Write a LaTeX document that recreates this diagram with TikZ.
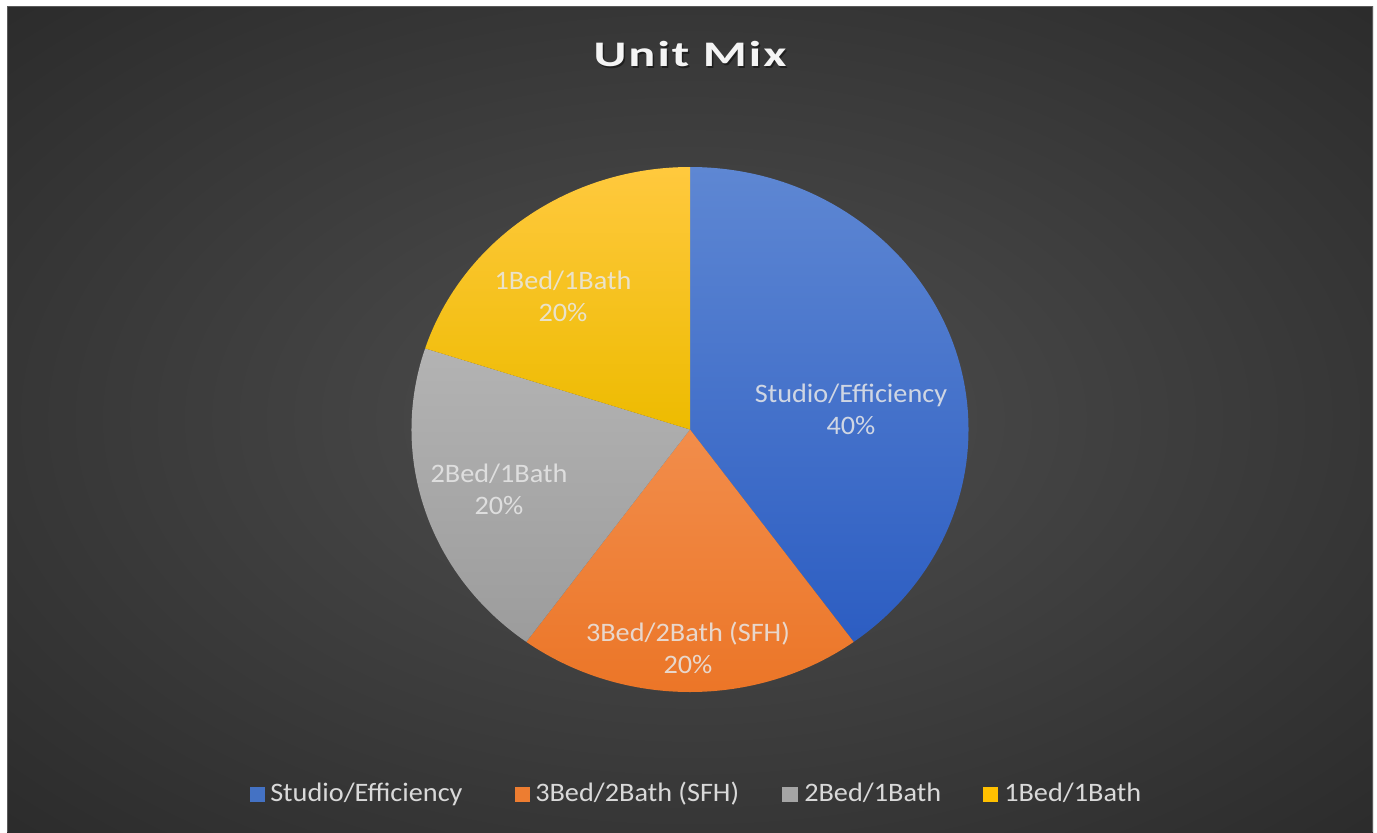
\documentclass[tikz,border=0pt]{standalone}
\usepackage{fontspec}
\setmainfont{Carlito}
\usepackage{graphicx}

% chart palette
\definecolor{bgin}{HTML}{4F4F4F}
\definecolor{bgout}{HTML}{2B2B2B}
\definecolor{frameline}{HTML}{5A5A5A}
\definecolor{bluetop}{HTML}{5E87D3}
\definecolor{bluebot}{HTML}{2C5DC2}
\definecolor{bluekey}{HTML}{4472C4}
\definecolor{orangetop}{HTML}{F28D4B}
\definecolor{orangebot}{HTML}{EB7425}
\definecolor{orangekey}{HTML}{ED7D31}
\definecolor{graytop}{HTML}{B3B3B3}
\definecolor{graybot}{HTML}{9C9C9C}
\definecolor{graykey}{HTML}{A5A5A5}
\definecolor{yellowtop}{HTML}{FFC93E}
\definecolor{yellowbot}{HTML}{EDBB00}
\definecolor{yellowkey}{HTML}{FFC000}
\definecolor{labeltext}{HTML}{E8E8E8}
\definecolor{legendtext}{HTML}{D9D9D9}
\definecolor{titletext}{HTML}{F4F4F4}

% soft glow behind the chart area
\pgfdeclareradialshading{bgglow}{\pgfpoint{0bp}{0bp}}{color(0bp)=(bgin); color(36bp)=(bgout); color(50bp)=(bgout)}

\tikzset{
  slicelabel/.style={text=labeltext, text opacity=0.85, align=center,
    font=\fontsize{20}{24}\selectfont, inner sep=0pt},
  legkey/.style={minimum size=11.5pt, inner sep=0pt, outer sep=0pt},
  legtext/.style={text=legendtext, font=\fontsize{20}{24}\selectfont,
    inner sep=0pt, anchor=base west},
  titlestyle/.style={font=\fontsize{27}{31}\bfseries\addfontfeature{LetterSpace=4}\selectfont,
    inner sep=0pt, anchor=base},
}
\newcommand{\wide}[1]{\scalebox{1.06}[1]{#1}}
\newcommand{\titlewide}[1]{\scalebox{1.40}[1]{#1}}

\begin{document}
\begin{tikzpicture}[x=0.75pt,y=-0.75pt]
  \useasboundingbox (0,0) rectangle (1377,832);
  \fill[white] (0,0) rectangle (1377,832);
  \shade[shading=bgglow] (7,6) rectangle (1373,832);
  \draw[frameline, line width=0.75pt] (7.4,832) -- (7.4,6.4) -- (1372.6,6.4) -- (1372.6,832);

  % title with its drop shadow
  \node[titlestyle, text=black, text opacity=0.45] (titleshadow) at (691.5,68.5)
    {\titlewide{Unit Mix}};
  \node[titlestyle, text=titletext] (title) at (690,66)
    {\titlewide{Unit Mix}};

  % pie slices, clockwise from twelve o'clock (ellipse radii 278.5 x 262.5)
  \coordinate (c) at (690,429.5);
  \shade[top color=bluetop, bottom color=bluebot]
    (c) -- +(-90:278.5 and 262.5) arc[start angle=-90, end angle=54, x radius=278.5, y radius=262.5] -- cycle;
  \shade[top color=orangetop, bottom color=orangebot]
    (c) -- +(54:278.5 and 262.5) arc[start angle=54, end angle=126, x radius=278.5, y radius=262.5] -- cycle;
  \shade[top color=graytop, bottom color=graybot]
    (c) -- +(126:278.5 and 262.5) arc[start angle=126, end angle=198, x radius=278.5, y radius=262.5] -- cycle;
  \shade[top color=yellowtop, bottom color=yellowbot]
    (c) -- +(198:278.5 and 262.5) arc[start angle=198, end angle=270, x radius=278.5, y radius=262.5] -- cycle;

  % slice labels
  \node[slicelabel] (lstudio) at (851,409) {\wide{Studio/Efficiency}\\\wide{40\%}};
  \node[slicelabel] (lthree)  at (688,647.5) {\wide{3Bed/2Bath (SFH)}\\\wide{20\%}};
  \node[slicelabel] (ltwo)    at (499,489) {\wide{2Bed/1Bath}\\\wide{20\%}};
  \node[slicelabel] (lone)    at (563,296) {\wide{1Bed/1Bath}\\\wide{20\%}};

  % legend
  \node[legkey, fill=bluekey]   (k1) at (257.5,794.5) {};
  \node[legtext] (t1) at (270,801) {\wide{Studio/Efficiency}};
  \node[legkey, fill=orangekey] (k2) at (522.5,794.5) {};
  \node[legtext] (t2) at (535,801) {\wide{3Bed/2Bath (SFH)}};
  \node[legkey, fill=graykey]   (k3) at (790,794.5) {};
  \node[legtext] (t3) at (804,801) {\wide{2Bed/1Bath}};
  \node[legkey, fill=yellowkey] (k4) at (990.5,794.5) {};
  \node[legtext] (t4) at (1004,801) {\wide{1Bed/1Bath}};
\end{tikzpicture}
\end{document}
